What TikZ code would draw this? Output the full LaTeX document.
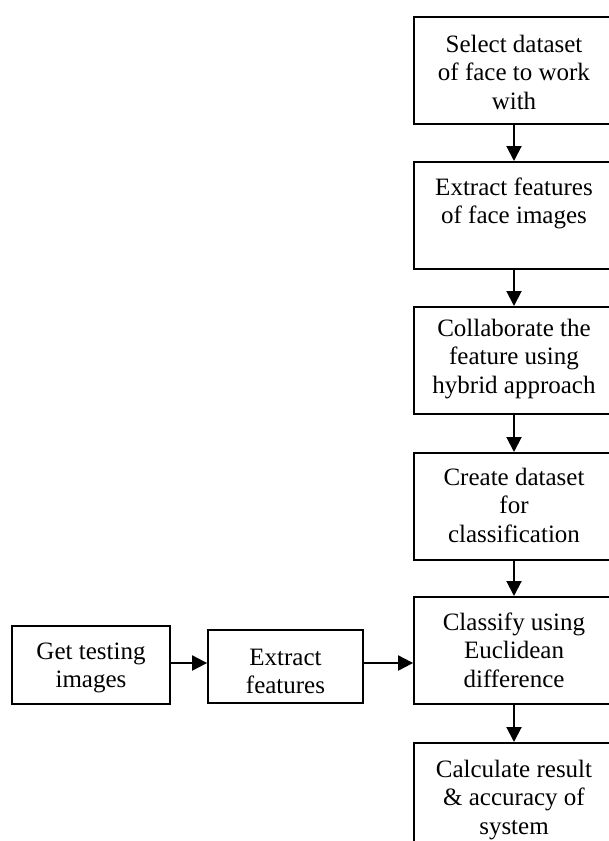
\documentclass[tikz,border=0pt]{standalone}
\usepackage{fontspec}
\setmainfont{Liberation Serif}
\usetikzlibrary{arrows.meta}

% stacked, centred lines whose baseline is the first line's
\newcommand\linesof[1]{\parbox[t]{220pt}{\centering #1}}

\tikzset{
  stepbox/.style={draw, line width=1.8pt, inner sep=0pt,
    minimum width=200pt, minimum height=107pt, anchor=north},
  sidebox/.style={draw, line width=1.8pt, inner sep=0pt},
  lbl/.style={inner sep=0pt, anchor=base,
    font=\fontsize{25}{28.75}\selectfont},
  flow/.style={line width=2pt, -{Triangle[width=15pt,length=15pt]}}
}

\begin{document}
\begin{tikzpicture}[x=1pt, y=-1pt]
  \useasboundingbox (0,0) rectangle (609,841);
  \clip (0,0) rectangle (609,841);

  % main column of steps
  \node[stepbox] (b1) at (514,16)  {};
  \node[stepbox] (b2) at (514,161) {};
  \node[stepbox] (b3) at (514,306) {};
  \node[stepbox] (b4) at (514,452) {};
  \node[stepbox] (b5) at (514,596) {};
  \node[stepbox] (b6) at (514,742) {};

  \node[lbl] (t1) at (514,52)  {\linesof{Select dataset\\of face to work\\with}};
  \node[lbl] (t2) at (514,195) {\linesof{Extract features\\of face images}};
  \node[lbl] (t3) at (514,336) {\linesof{Collaborate the\\feature using\\hybrid approach}};
  \node[lbl] (t4) at (514,485) {\linesof{Create dataset\\for\\classification}};
  \node[lbl] (t5) at (514,630) {\linesof{Classify using\\Euclidean\\difference}};
  \node[lbl] (t6) at (514,777) {\linesof{Calculate result\\\& accuracy of\\system}};

  % testing branch
  \node[sidebox, minimum width=158pt, minimum height=78pt] (g) at (91,665) {};
  \node[sidebox, minimum width=155pt, minimum height=73pt] (e) at (285.5,666.5) {};
  \node[lbl] (tg) at (91,659)    {\linesof{Get testing\\images}};
  \node[lbl] (te) at (285.5,665) {\linesof{Extract\\features}};

  \coordinate (lvl) at (0,663);

  % connectors
  \draw[flow] (b1.south) -- (b2.north);
  \draw[flow] (b2.south) -- (b3.north);
  \draw[flow] (b3.south) -- (b4.north);
  \draw[flow] (b4.south) -- (b5.north);
  \draw[flow] (b5.south) -- (b6.north);
  \draw[flow] (g.east |- lvl) -- (e.west |- lvl);
  \draw[flow] (e.east |- lvl) -- (b5.west |- lvl);
\end{tikzpicture}
\end{document}
